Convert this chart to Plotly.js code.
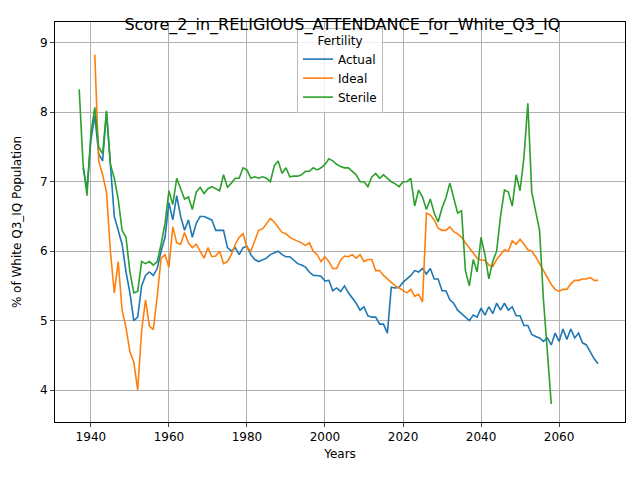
<!DOCTYPE html>
<html><head><script src="https://cdn.plot.ly/plotly-3.0.1.min.js"></script></head>
<body style="margin:0"><div id="c" style="width:640px;height:480px"></div>
<script>
const actualStart = 1938;
const actual = [7.2,6.9,7.6,7.95,7.4,7.3,8.0,7.2,6.5,6.3,6.1,5.7,5.4,5.0,5.05,5.5,5.65,5.7,5.65,5.75,6.0,6.2,6.7,6.45,6.8,6.5,6.3,6.45,6.2,6.4,6.5,6.5,6.48,6.45,6.3,6.3,6.3,6.05,6.0,6.05,5.95,6.05,6.07,5.95,5.88,5.85,5.87,5.9,5.95,5.97,6.0,5.95,5.92,5.92,5.87,5.82,5.8,5.77,5.7,5.65,5.65,5.64,5.57,5.58,5.43,5.47,5.42,5.5,5.4,5.32,5.25,5.15,5.2,5.07,5.05,5.05,4.95,4.95,4.82,5.48,5.47,5.48,5.55,5.6,5.65,5.72,5.7,5.75,5.67,5.75,5.6,5.6,5.43,5.43,5.3,5.25,5.15,5.1,5.05,5.0,5.08,5.05,5.18,5.08,5.2,5.1,5.25,5.15,5.25,5.15,5.2,5.07,5.07,4.93,4.93,4.8,4.77,4.75,4.7,4.75,4.65,4.82,4.7,4.88,4.73,4.88,4.75,4.82,4.68,4.65,4.55,4.45,4.38];
const idealStart = 1941;
const ideal = [8.83,7.3,7.1,6.85,6.0,5.4,5.85,5.15,4.9,4.55,4.4,4.0,4.85,5.3,4.92,4.87,5.35,5.9,5.95,5.77,6.35,6.12,6.1,6.27,6.12,6.05,6.1,6.0,5.9,6.05,5.92,5.93,6.0,5.82,5.85,5.95,6.1,6.2,6.25,6.05,6.0,6.15,6.3,6.32,6.4,6.47,6.42,6.35,6.27,6.25,6.2,6.17,6.15,6.12,6.08,6.12,6.0,5.95,5.85,5.92,5.85,5.75,5.75,5.87,5.93,5.92,5.95,5.9,5.95,5.85,5.88,5.88,5.72,5.72,5.65,5.6,5.55,5.5,5.47,5.43,5.4,5.45,5.35,5.38,5.27,6.55,6.52,6.45,6.33,6.3,6.3,6.35,6.28,6.25,6.2,6.12,6.05,5.97,5.9,5.87,5.87,5.8,5.78,5.88,5.95,6.02,6.0,6.15,6.1,6.17,6.1,6.02,6.0,5.92,5.82,5.72,5.62,5.52,5.45,5.42,5.45,5.45,5.53,5.58,5.58,5.6,5.6,5.62,5.58,5.58];
const sterileStart = 1937;
const sterile = [8.33,7.25,6.8,7.7,8.07,7.5,7.4,8.02,7.25,7.05,6.75,6.3,6.2,5.7,5.4,5.42,5.85,5.82,5.85,5.8,5.85,6.1,6.4,6.87,6.67,7.05,6.9,6.75,6.78,6.6,6.85,6.92,6.83,6.9,6.93,6.9,6.87,7.1,6.92,6.98,7.05,7.05,7.2,7.17,7.05,7.07,7.05,7.07,7.05,7.0,7.23,7.3,7.12,7.2,7.07,7.08,7.08,7.1,7.15,7.15,7.2,7.17,7.2,7.25,7.33,7.3,7.25,7.22,7.2,7.2,7.15,7.1,7.0,7.0,6.93,7.07,7.12,7.05,7.1,7.05,7.0,6.97,6.93,7.0,7.0,7.05,6.65,6.88,6.78,6.6,6.75,6.55,6.42,6.62,6.77,6.98,6.75,6.55,6.58,5.72,5.5,5.88,5.7,6.2,5.95,5.6,5.85,6.0,6.5,6.88,6.85,6.65,7.1,6.87,7.35,8.13,6.85,6.55,6.3,5.3,4.5,3.8];
const yrs = (s, a) => a.map((_, i) => s + i);
const traces = [
  {name:'Actual', x:yrs(actualStart,actual), y:actual, color:'#1f77b4'},
  {name:'Ideal', x:yrs(idealStart,ideal), y:ideal, color:'#ff7f0e'},
  {name:'Sterile', x:yrs(sterileStart,sterile), y:sterile, color:'#2ca02c'}
].map(t => ({type:'scatter', mode:'lines', name:t.name, x:t.x, y:t.y, line:{color:t.color, width:1.6}}));
const ax = {showgrid:true, gridcolor:'#b0b0b0', gridwidth:1, showline:true, mirror:true, linecolor:'#000', linewidth:1, ticks:'outside', ticklen:4, zeroline:false, tickfont:{size:12, color:'#000'}};
Plotly.newPlot('c', traces, {
  width:640, height:480,
  font:{family:'DejaVu Sans', color:'#000'},
  margin:{l:55, r:15, t:22, b:58},
  paper_bgcolor:'#fff', plot_bgcolor:'#fff',
  title:{text:'Score_2_in_RELIGIOUS_ATTENDANCE_for_White_Q3_IQ', font:{size:16}, x:0.535, y:0.96, xanchor:'center'},
  xaxis:Object.assign({}, ax, {range:[1930.8,2076.9], tickvals:[1940,1960,1980,2000,2020,2040,2060], title:{text:'Years', font:{size:12}, standoff:6}}),
  yaxis:Object.assign({}, ax, {range:[3.54,9.3], tickvals:[4,5,6,7,8,9], title:{text:'% of White Q3_IQ Population', font:{size:12}}}),
  legend:{title:{text:'Fertility', side:'top center', font:{size:12}}, x:0.5, xanchor:'center', y:0.985, yanchor:'top', bordercolor:'#bbbbbb', borderwidth:1, bgcolor:'rgba(255,255,255,0.8)', font:{size:12}},
  showlegend:true
}, {displayModeBar:false});
</script></body></html>
